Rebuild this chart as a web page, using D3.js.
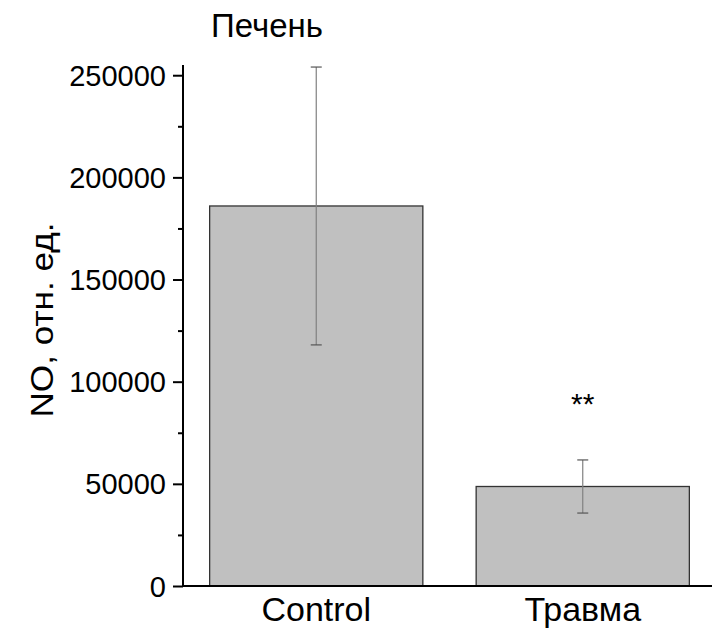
<!DOCTYPE html>
<html>
<head>
<meta charset="utf-8">
<script src="https://cdn.jsdelivr.net/npm/d3@7"></script>
<style>
  body { margin: 0; background: #fff; }
  svg { display: block; font-family: "Liberation Sans", Arial, sans-serif; }
  .axis path, .axis line { stroke: #000; stroke-width: 2px; }
</style>
</head>
<body>
<svg width="712" height="630"></svg>
<script>
// data
var categories = ['Control', 'Травма'];
var means = [186000, 48700];
var errors = [68000, 13000];
var marks = ['', '**'];
var yTicks = [0, 50000, 100000, 150000, 200000, 250000];
var yMinorTicks = [25000, 75000, 125000, 175000, 225000];

var svg = d3.select('svg');

// plot area
var plotLeft = 183, plotRight = 716, plotTop = 65, plotBottom = 586;

var x = d3.scaleBand()
    .domain(categories)
    .range([plotLeft, plotRight])
    .paddingInner(0.2)
    .paddingOuter(0.1);

var y = d3.scaleLinear()
    .domain([0, 255000])
    .range([plotBottom, plotTop]);

// bars
svg.selectAll('rect.bar')
    .data(categories)
    .enter()
    .append('rect')
    .attr('class', 'bar')
    .attr('x', function(d) { return x(d); })
    .attr('y', function(d, i) { return y(means[i]); })
    .attr('width', x.bandwidth())
    .attr('height', function(d, i) { return y(0) - y(means[i]); })
    .attr('fill', '#c0c0c0')
    .attr('stroke', '#333')
    .attr('stroke-width', 1.3);

// error bars
var err = svg.selectAll('g.err')
    .data(categories)
    .enter()
    .append('g')
    .attr('class', 'err')
    .attr('stroke', '#808080')
    .attr('stroke-width', 1.2);

err.append('line')
    .attr('x1', function(d) { return x(d) + x.bandwidth() / 2; })
    .attr('x2', function(d) { return x(d) + x.bandwidth() / 2; })
    .attr('y1', function(d, i) { return y(means[i] + errors[i]); })
    .attr('y2', function(d, i) { return y(means[i] - errors[i]); });

[1, -1].forEach(function(s) {
    err.append('line')
        .attr('stroke', '#555')
        .attr('x1', function(d) { return x(d) + x.bandwidth() / 2 - 5.5; })
        .attr('x2', function(d) { return x(d) + x.bandwidth() / 2 + 5.5; })
        .attr('y1', function(d, i) { return y(means[i] + s * errors[i]); })
        .attr('y2', function(d, i) { return y(means[i] + s * errors[i]); });
});

// significance marks
svg.selectAll('text.mark')
    .data(categories)
    .enter()
    .append('text')
    .attr('class', 'mark')
    .attr('x', function(d) { return x(d) + x.bandwidth() / 2; })
    .attr('y', 414)
    .attr('text-anchor', 'middle')
    .style('font-size', '30px')
    .text(function(d, i) { return marks[i]; });

// y axis
var yAxis = d3.axisLeft(y)
    .tickValues(yTicks)
    .tickSize(10)
    .tickPadding(7)
    .tickFormat(d3.format('d'));

var gy = svg.append('g')
    .attr('class', 'axis')
    .attr('transform', 'translate(' + plotLeft + ',0)')
    .call(yAxis);
gy.select('.domain').attr('d', 'M0,' + plotTop + 'V' + plotBottom);
gy.selectAll('text').style('font-size', '29px').attr('dy', '0.35em');

svg.append('g')
    .attr('class', 'axis')
    .attr('transform', 'translate(' + plotLeft + ',0)')
    .call(d3.axisLeft(y).tickValues(yMinorTicks).tickSize(5).tickFormat(''))
    .select('.domain').remove();

// x axis
var gx = svg.append('g')
    .attr('class', 'axis')
    .attr('transform', 'translate(0,' + plotBottom + ')')
    .call(d3.axisBottom(x).tickSize(0).tickPadding(11));
gx.select('.domain').attr('d', 'M' + plotLeft + ',0H712');
gx.selectAll('text').style('font-size', '34px').attr('dy', '0.71em');

// labels
svg.append('text')
    .attr('x', 211)
    .attr('y', 37)
    .style('font-size', '33px')
    .text('Печень');

svg.append('text')
    .attr('transform', 'translate(53,320) rotate(-90)')
    .attr('text-anchor', 'middle')
    .style('font-size', '31px')
    .attr('textLength', 195)
    .attr('lengthAdjust', 'spacingAndGlyphs')
    .text('NO, отн. ед.');
</script>
</body>
</html>
